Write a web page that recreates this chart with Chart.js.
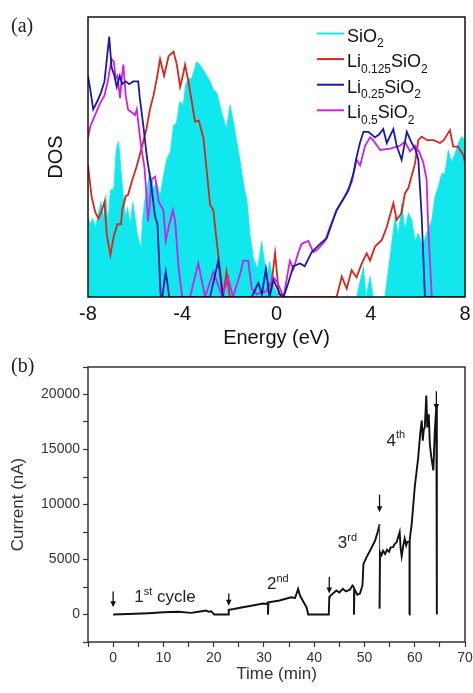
<!DOCTYPE html>
<html>
<head>
<meta charset="utf-8">
<title>DOS and current</title>
<script src="https://cdn.jsdelivr.net/npm/chart.js@4.4.1/dist/chart.umd.min.js"></script>
<style>
  html, body { margin: 0; padding: 0; background: #fff; }
  body { width: 473px; height: 693px; position: relative; overflow: hidden; }
  .panel { position: absolute; left: 0; width: 473px; }
  #boxA { top: 0; height: 350px; }
  #boxB { top: 350px; height: 343px; }
  .tag { position: absolute; left: 11px; font-family: "Liberation Serif", "Times New Roman", serif;
         font-size: 20px; line-height: 20px; color: #222; }
</style>
</head>
<body>
<div class="panel" id="boxA"><canvas id="dosChart"></canvas></div>
<div class="panel" id="boxB"><canvas id="currentChart"></canvas></div>
<span class="tag" style="top:15px">(a)</span>
<span class="tag" style="top:355px">(b)</span>

<script>
// ========================================
// (a) density of states
// ========================================

const seriesNames = ['SiO2', 'Li0.125SiO2', 'Li0.25SiO2', 'Li0.5SiO2'];
const seriesColors = ['rgb(16,232,238)', '#d8261c', '#1a1aa6', '#d21fe0'];
const energyTicks = [-8, -4, 0, 4, 8];

// SiO2 (filled)
const sio2E = [
  -8, -7.9, -7.8, -7.68, -7.56, -7.45, -7.35, -7.25, -7.15, -7.05,
  -6.9, -6.8, -6.7, -6.6, -6.5, -6.4, -6.33, -6.2, -6.1, -6.0,
  -5.9, -5.75, -5.68, -5.6, -5.37, -5.22, -5.08, -4.94, -4.8, -4.65,
  -4.5, -4.37, -4.25, -4.1, -3.96, -3.85, -3.74, -3.6, -3.39, -3.25,
  -3.1, -2.96, -2.82, -2.68, -2.54, -2.33, -2.12, -1.97, -1.83, -1.69,
  -1.55, -1.48, -1.35, -1.26, -1.12, -0.98, -0.8, -0.63, -0.5, -0.42,
  -0.28, -0.13, 0, 0.1, 3.4, 3.69, 3.8, 3.97, 4.1, 4.6,
  4.75, 4.89, 5.03, 5.17, 5.31, 5.45, 5.6, 5.74, 5.88, 6.02,
  6.2, 6.37, 6.59, 6.73, 6.87, 7.01, 7.15, 7.29, 7.43, 7.58,
  7.72, 7.86, 8
];
const sio2DOS = [
  28, 26, 28, 24.6, 30, 34, 28, 36.4, 26, 38,
  38.8, 53, 55.5, 45, 36, 28, 32, 26, 34, 28,
  22, 17.4, 28, 34, 44.8, 38.8, 41, 36, 43, 49.5,
  52, 61.4, 62, 69.8, 68.6, 76, 78, 78, 84, 83,
  81, 79, 77, 74, 73, 66, 60, 68.6, 62.6, 55.5,
  49, 44.8, 38, 35, 22, 13.8, 10, 19.8, 12, 8,
  12.6, 4, 2, 0, 0, 10.8, 0, 7.3, 0, 0,
  9.6, 19, 28.7, 22, 33.5, 24, 30, 27.5, 20, 22.7,
  18, 22.7, 27.5, 35.8, 39.4, 44, 44, 52.5, 48, 51.3,
  55, 57.3, 56
];

// Li0.125SiO2
const li125E = [
  -8, -7.85, -7.7, -7.56, -7.45, -7.3, -7.2, -7.05, -6.9, -6.75,
  -6.6, -6.55, -6.4, -6.3, -6.15, -5.94, -5.73, -5.52, -5.37, -5.22,
  -5.08, -4.94, -4.77, -4.58, -4.37, -4.23, -4.09, -3.95, -3.88, -3.74,
  -3.6, -3.46, -3.3, -3.1, -2.96, -2.82, -2.68, -2.54, -2.4, -2.27,
  -2.12, -1.98, -0.28, -0.06, 0.1, 0.3, 2.55, 2.77, 2.98, 3.19,
  3.4, 3.62, 3.83, 3.97, 4.18, 4.47, 4.68, 4.96, 5.1, 5.31,
  5.45, 5.6, 5.88, 6.02, 6.16, 6.4, 6.66, 6.94, 7.1, 7.36,
  7.5, 7.7, 7.93, 8
];
const li125DOS = [
  47, 36, 30.5, 28, 30, 34, 22, 15, 22, 26,
  26, 31, 36, 36.5, 41, 46.5, 53, 60, 67, 72,
  78, 85, 79, 86, 87.6, 83, 75, 80, 83, 77,
  70, 62.6, 63, 56.7, 45, 33, 31, 20, 10, 0,
  9, 0, 0, 15.7, 1, 0, 0, 7.3, 3, 9.6,
  7, 12, 15.6, 13, 18, 20.4, 25, 33.5, 27.5, 30,
  37, 39, 47.7, 56, 57.3, 56, 56, 55, 56, 59.6,
  53.7, 53.7, 50.7, 48
];

// Li0.25SiO2
const li25E = [
  -8, -7.9, -7.78, -7.6, -7.45, -7.3, -7.1, -7.0, -6.88, -6.78,
  -6.65, -6.55, -6.4, -6.25, -6.08, -5.87, -5.8, -5.65, -5.5, -5.3,
  -5.16, -5.05, -4.92, -4.85, -4.7, -4.55, -2.82, -2.47, -2.27, -1.05,
  -0.77, -0.62, -0.45, -0.3, -0.13, 0.15, 0.3, 0.5, 0.71, 1.0,
  1.2, 1.49, 1.85, 2.13, 2.34, 2.55, 2.84, 3.05, 3.26, 3.4,
  3.54, 3.69, 3.9, 4.18, 4.35, 4.53, 4.68, 4.96, 5.1, 5.31,
  5.53, 5.74, 5.88, 6.02, 6.16, 6.3, 8
];
const li25DOS = [
  79, 74, 67, 70, 73, 77, 93, 82, 79, 75,
  79, 76, 77, 76, 77, 77, 71, 61, 50, 39,
  29, 26, 1, 0, 9, 0, 0, 13, 0, 0,
  5, 1, 10, 0, 6, 1, 0, 5, 11, 12,
  11, 16, 19, 21, 26, 31, 35, 38, 44, 50,
  55, 59, 59, 57, 58, 60, 55, 60, 54, 49,
  59, 55, 53, 49, 29, 0, 0
];

// Li0.5SiO2
const li5E = [
  -8, -7.9, -7.75, -7.5, -7.3, -7.16, -7.0, -6.9, -6.83, -6.75,
  -6.64, -6.57, -6.5, -6.4, -6.3, -6.15, -6.0, -5.93, -5.75, -5.6,
  -5.5, -5.45, -5.38, -5.3, -5.15, -5.0, -4.8, -4.7, -4.55, -4.4,
  -4.3, -4.15, -4.0, -3.67, -3.32, -3.03, -2.68, -2.55, -2.3, -2.05,
  -1.85, -1.55, -1.41, -1.2, -1.05, -0.84, -0.45, -0.13, 0.05, 0.3,
  0.57, 0.72, 0.93, 1.07, 1.35, 1.56, 1.75, 2.06, 2.27, 2.55,
  2.9, 3.19, 3.4, 3.55, 3.76, 3.97, 4.1, 4.4, 4.82, 5.24,
  5.45, 5.67, 5.88, 6.05, 6.23, 6.37, 6.44, 6.59, 8
];
const li5DOS = [
  57, 61, 64, 69, 72, 77, 85, 84, 78, 79,
  71, 78, 83, 72, 67, 66, 65, 67, 54, 46,
  34, 27, 33, 42, 43, 34, 31, 20, 26, 31,
  27, 10, 0, 0, 12, 0, 9, 6, 0, 7,
  0, 8, 13, 13, 3, 1, 2, 7, 5, 0,
  13, 10, 16, 19, 20, 16, 17, 20, 25, 31,
  36, 41, 49, 47, 54, 57, 56, 52.5, 53, 54,
  55.5, 52, 54, 52, 48, 42, 25, 0, 0
];

// ========================================
// (b) current vs time
// ========================================

const timeMin = [
  0, 3, 7, 10, 13, 15.5, 17, 18.5, 19, 19.5,
  20.1, 22.9, 23.0, 24, 25.8, 27.8, 29.8, 30.5, 30.8, 30.8,
  30.9, 33.1, 35.4, 36.2, 36.8, 37.2, 37.9, 38.5, 38.8, 42.9,
  43.0, 43.1, 44.4, 45.0, 45.7, 46.3, 47.1, 47.6, 47.9, 47.9,
  48.0, 48.6, 49.1, 49.6, 49.8, 50.4, 51.1, 52.1, 52.7, 53.0,
  53.0, 53.1, 53.4, 53.7, 54.1, 54.5, 54.9, 55.2, 55.7, 56.0,
  56.4, 57.0, 57.2, 57.4, 57.7, 58.0, 58.3, 58.5, 58.9, 58.9,
  59.0, 59.4, 60.0, 60.7, 61.1, 61.4, 61.6, 61.8, 62.0, 62.3,
  62.5, 62.8, 63.0, 63.3, 63.7, 64.0, 64.3, 64.4
];
const currentNA = [
  0, 50, 120, 200, 250, 150, 250, 360, 250, 300,
  0, 0, 430, 500, 660, 820, 1000, 950, 1120, 0,
  1100, 1270, 1570, 1500, 2330, 1700, 1120, 640, 0, 0,
  1570, 1650, 2180, 2000, 2330, 2100, 2250, 2640, 2500, 0,
  2300, 1800, 1900, 2640, 4600, 5200, 5800, 6700, 7600, 8200,
  550, 5660, 5400, 5800, 5500, 5900, 5700, 6100, 6120, 6400,
  6570, 7480, 6000, 5300, 6200, 6900, 6300, 6600, 6600, 0,
  6800, 8240, 11570, 14300, 16500, 17640, 15800, 16800, 17000, 19900,
  17000, 18200, 15500, 14300, 13100, 16700, 19000, 0
];

// cycle start arrows (time, tail, head in nA)
const arrowTime = [0, 23, 43, 53, 64.3];
const arrowTail = [2100, 1900, 3400, 10900, 20300];
const arrowHead = [650, 800, 1900, 9300, 18600];

// cycle labels: [number, superscript, rest], anchored at (time, nA) baseline
const cycleLabels = [['1', 'st', ' cycle'], ['2', 'nd', ''], ['3', 'rd', ''], ['4', 'th', '']];
const cycleTime = [4.2, 30.6, 44.7, 54.4];
const cycleNA = [1120, 2340, 6060, 15360];

const SANS = "'Liberation Sans', Arial, sans-serif";
Chart.defaults.font.family = SANS;

const toPoints = (xs, ys) => xs.map((x, i) => ({ x: x, y: ys[i] }));

// draws "Li0.125SiO2"-style text with numbers lowered, or [n, sup, rest] raised
function drawRich(ctx, x, y, parts, size, small) {
  let cx = x;
  parts.forEach(p => {
    const s = p.k ? small : size;
    ctx.font = s + 'px ' + SANS;
    const dy = p.k === 1 ? size * 0.3 : p.k === 2 ? -size * 0.42 : 0;
    ctx.fillText(p.t, cx, y + dy);
    cx += ctx.measureText(p.t).width;
  });
}

function formulaParts(name) {
  return name.split(/([0-9.]+)/).filter(t => t).map(t => ({ t: t, k: /^[0-9.]+$/.test(t) ? 1 : 0 }));
}

const framePlugin = {
  id: 'frame',
  afterDatasetsDraw(chart, args, opts) {
    const { ctx, chartArea: a } = chart;
    ctx.save();
    ctx.strokeStyle = opts.color;
    ctx.lineWidth = opts.width;
    ctx.strokeRect(a.left, a.top, a.right - a.left, a.bottom - a.top);
    ctx.restore();
  }
};

const dosLegend = {
  id: 'dosLegend',
  afterDraw(chart) {
    const { ctx, chartArea: a } = chart;
    ctx.save();
    ctx.fillStyle = '#111';
    ctx.textBaseline = 'alphabetic';
    seriesNames.forEach((name, i) => {
      const base = a.top + 24.5 + i * 25.6;
      ctx.strokeStyle = seriesColors[i];
      ctx.lineWidth = 2;
      ctx.beginPath();
      ctx.moveTo(a.right - 148, base - 8);
      ctx.lineTo(a.right - 121, base - 8);
      ctx.stroke();
      drawRich(ctx, a.right - 118, base, formulaParts(name), 18, 12);
    });
    ctx.restore();
  }
};

const cycleMarks = {
  id: 'cycleMarks',
  afterDatasetsDraw(chart) {
    const { ctx, scales: { x, y } } = chart;
    ctx.save();
    ctx.strokeStyle = '#111';
    ctx.fillStyle = '#111';
    ctx.lineWidth = 1.3;
    arrowTime.forEach((t, i) => {
      const px = x.getPixelForValue(t);
      const top = y.getPixelForValue(arrowTail[i]);
      const tip = y.getPixelForValue(arrowHead[i]);
      ctx.beginPath();
      ctx.moveTo(px, top);
      ctx.lineTo(px, tip - 5);
      ctx.stroke();
      ctx.beginPath();
      ctx.moveTo(px - 2.8, tip - 6);
      ctx.lineTo(px + 2.8, tip - 6);
      ctx.lineTo(px, tip);
      ctx.closePath();
      ctx.fill();
    });
    ctx.fillStyle = '#222';
    cycleLabels.forEach((lab, i) => {
      const parts = [{ t: lab[0], k: 0 }, { t: lab[1], k: 2 }, { t: lab[2], k: 0 }];
      drawRich(ctx, x.getPixelForValue(cycleTime[i]), y.getPixelForValue(cycleNA[i]), parts, 17, 11);
    });
    ctx.restore();
  }
};

// fixed axis boxes so both plot frames line up at x = 88..465
const fixX = h => s => { s.height = h; s.paddingLeft = 0; s.paddingRight = 0; };
const fixY = w => s => { s.width = w; s.paddingTop = 0; s.paddingBottom = 0; };

// ---------- chart (a) ----------
const dosSets = [
  [sio2E, sio2DOS], [li125E, li125DOS], [li25E, li25DOS], [li5E, li5DOS]
].map((s, i) => ({
  label: seriesNames[i],
  data: toPoints(s[0], s[1]),
  borderColor: seriesColors[i],
  backgroundColor: seriesColors[i],
  borderWidth: i === 0 ? 0.8 : 1.8,
  fill: i === 0 ? 'origin' : false,
  pointRadius: 0,
  tension: 0,
  order: [4, 3, 1, 2][i]
}));

new Chart(document.getElementById('dosChart'), {
  type: 'line',
  data: { datasets: dosSets },
  options: {
    responsive: true,
    maintainAspectRatio: false,
    animation: false,
    layout: { padding: { top: 17, right: 8, left: 0, bottom: 0 } },
    plugins: { legend: { display: false }, tooltip: { enabled: false }, frame: { color: '#111', width: 1.5 } },
    scales: {
      x: {
        type: 'linear', min: energyTicks[0], max: energyTicks[energyTicks.length - 1],
        afterBuildTicks: s => { s.ticks = energyTicks.map(v => ({ value: v })); },
        ticks: { font: { size: 20 }, color: '#111', padding: 5, maxRotation: 0 },
        grid: { display: false, drawTicks: false },
        border: { display: false },
        title: { display: true, text: 'Energy (eV)', font: { size: 20 }, color: '#111', padding: { top: 0, bottom: 0 } },
        afterFit: fixX(53)
      },
      y: {
        min: 0, max: 100,
        ticks: { display: false },
        grid: { display: false, drawTicks: false },
        border: { display: false },
        title: { display: true, text: 'DOS', font: { size: 20 }, color: '#111', padding: { top: 44, bottom: 0 } },
        afterFit: fixY(88)
      }
    }
  },
  plugins: [framePlugin, dosLegend]
});

// ---------- chart (b) ----------
const tickGrid = { display: true, drawOnChartArea: false, drawTicks: true, tickLength: 5, tickColor: '#333', tickWidth: 1.2 };

new Chart(document.getElementById('currentChart'), {
  type: 'line',
  data: {
    datasets: [{
      label: 'Current',
      data: toPoints(timeMin, currentNA),
      borderColor: '#111',
      borderWidth: 1.9,
      pointRadius: 0,
      tension: 0,
      fill: false,
      segment: {
        borderColor: c => c.p0.parsed.x === c.p1.parsed.x && c.p0.parsed.x > 50 ? '#555' : '#111',
        borderWidth: c => c.p0.parsed.x === c.p1.parsed.x ? 1.2 : 1.9
      }
    }]
  },
  options: {
    responsive: true,
    maintainAspectRatio: false,
    animation: false,
    layout: { padding: { top: 17, right: 8, left: 0, bottom: 0 } },
    plugins: { legend: { display: false }, tooltip: { enabled: false }, frame: { color: '#333', width: 1.5 } },
    scales: {
      x: {
        type: 'linear', min: -5, max: 70,
        ticks: { stepSize: 5, autoSkip: false, maxRotation: 0, font: { size: 14 }, color: '#333', padding: 3,
                 callback: v => (v % 10 === 0 ? v : '') },
        grid: tickGrid,
        border: { display: false },
        title: { display: true, text: 'Time (min)', font: { size: 17 }, color: '#333', padding: { top: 0, bottom: 8 } },
        afterFit: fixX(51)
      },
      y: {
        min: -2500, max: 22500,
        ticks: { stepSize: 2500, autoSkip: false, font: { size: 14 }, color: '#333', padding: 3,
                 callback: v => (v % 5000 === 0 ? v : '') },
        grid: tickGrid,
        border: { display: false },
        title: { display: true, text: 'Current (nA)', font: { size: 17 }, color: '#333', padding: { top: 8, bottom: 0 } },
        afterFit: fixY(88)
      }
    }
  },
  plugins: [framePlugin, cycleMarks]
});
</script>
</body>
</html>
